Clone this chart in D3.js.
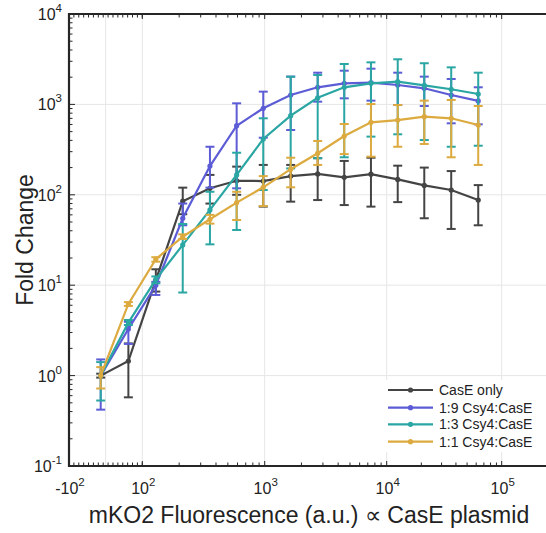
<!DOCTYPE html>
<html><head><meta charset="utf-8">
<script src="https://cdn.jsdelivr.net/npm/d3@7"></script>
<style>body{margin:0;background:#fff}svg{display:block;font-family:"Liberation Sans",Arial,Helvetica,sans-serif}</style>
</head><body>
<script>
// ---- data ----
const xVals = [-13.5, 62, 129, 214, 357, 590, 973, 1633, 2718, 4487, 7430, 12470, 21220, 36390, 62500];
const seriesNames = ["CasE only", "1:9 Csy4:CasE", "1:3 Csy4:CasE", "1:1 Csy4:CasE"];
const seriesColors = ["#444444", "#5c5cd6", "#2aa6a3", "#dcaa3e"];
const caseOnly    = [1.0, 1.45, 11.4, 85, 118, 143, 142, 161, 170, 156, 169, 148, 127, 113, 87.5];
const caseOnlyHi  = [1.05, 2.27, 15, 120, 166, 205, 214, 214, 254, 237, 257, 210, 200, 183, 128];
const caseOnlyLo  = [0.95, 0.575, 8.5, 61, 80, 100, 74, 84, 87.5, 77, 74, 83, 55, 41.9, 46];
const ratio19     = [1.0, 3.28, 10.0, 55, 208, 581, 906, 1270, 1546, 1711, 1738, 1640, 1507, 1270, 1092];
const ratio19Hi   = [1.51, 3.94, 10.9, 80, 340, 1028, 1384, 2028, 2243, 2360, 2483, 2243, 2028, 1910, 1546];
const ratio19Lo   = [0.42, 2.24, 7.8, 46, 120, 118, 428, 521, 1072, 1167, 1100, 984, 960, 618, 602];
const ratio13     = [1.0, 3.85, 11.6, 27.9, 68, 166, 414, 750, 1185, 1546, 1711, 1783, 1627, 1470, 1303];
const ratio13Hi   = [1.41, 4.12, 12.5, 47.5, 108, 292, 702, 2028, 2113, 2800, 2918, 3155, 2853, 2570, 2243];
const ratio13Lo   = [0.53, 3.63, 10.5, 8.3, 28.3, 40.8, 113, 196, 254, 260, 440, 467, 404, 340, 349];
const ratio11     = [1.0, 6.2, 19.4, 34.4, 53.6, 82, 121, 192, 288, 447, 634, 671, 731, 702, 592];
const ratio11Hi   = [1.24, 6.5, 20.4, 36.5, 60, 108, 161, 257, 394, 607, 1009, 984, 1100, 1120, 960];
const ratio11Lo   = [0.72, 5.9, 18.2, 32.5, 48, 52.6, 75, 121, 214, 282, 264, 340, 365, 260, 214];
const yTickExps = [-1, 0, 1, 2, 3, 4];
const xTickLabels = [{v:-100, sign:"-", e:2}, {v:100, sign:"", e:2}, {v:1000, sign:"", e:3}, {v:10000, sign:"", e:4}, {v:100000, sign:"", e:5}];
const xLabel = "mKO2 Fluorescence (a.u.) \u221D CasE plasmid";
const yLabel = "Fold Change";

const W = 546, H = 533;
const L = 69, T = 14, B = 466, R = 548;
const svg = d3.select("body").append("svg").attr("width", W).attr("height", H);

// piecewise scale: linear in [-100,100], logarithmic beyond
const xLin = d3.scaleLinear().domain([-100, 100]).range([L, 142.3]);
const xLogPart = d3.scaleLinear().domain([2, 3, 4, 5, 5.5]).range([142.3, 264.7, 386.7, 501.7, 559.2]);
const x = v => v <= 100 ? xLin(v) : xLogPart(Math.log10(v));
const y = d3.scaleLog().domain([0.1, 1e4]).range([B, T]);

// grid
const grid = svg.append("g").attr("stroke", "#e6e6e6").attr("stroke-width", 1);
yTickExps.forEach(e => {
  const yy = y(Math.pow(10, e));
  if (e > -1 && e < 4) grid.append("line").attr("x1", L).attr("x2", R).attr("y1", yy).attr("y2", yy);
});
[0, 100, 1000, 10000, 100000].forEach(v => {
  grid.append("line").attr("x1", x(v)).attr("x2", x(v)).attr("y1", T).attr("y2", B);
});

// series
const series = [
  {m: caseOnly, hi: caseOnlyHi, lo: caseOnlyLo},
  {m: ratio19, hi: ratio19Hi, lo: ratio19Lo},
  {m: ratio13, hi: ratio13Hi, lo: ratio13Lo},
  {m: ratio11, hi: ratio11Hi, lo: ratio11Lo}
];
const line = d3.line().x((d, i) => x(xVals[i])).y(d => y(d));
series.forEach((s, k) => {
  const g = svg.append("g").attr("stroke", seriesColors[k]).attr("fill", seriesColors[k]);
  xVals.forEach((xv, i) => {
    const cx = x(xv);
    g.append("line").attr("x1", cx).attr("x2", cx).attr("y1", y(s.hi[i])).attr("y2", y(s.lo[i])).attr("stroke-width", 2);
    g.append("line").attr("x1", cx - 4.5).attr("x2", cx + 4.5).attr("y1", y(s.hi[i])).attr("y2", y(s.hi[i])).attr("stroke-width", 2);
    g.append("line").attr("x1", cx - 4.5).attr("x2", cx + 4.5).attr("y1", y(s.lo[i])).attr("y2", y(s.lo[i])).attr("stroke-width", 2);
  });
  g.append("path").attr("d", line(s.m)).attr("fill", "none").attr("stroke-width", 2.2);
  g.selectAll("circle").data(s.m).enter().append("circle")
    .attr("cx", (d, i) => x(xVals[i])).attr("cy", d => y(d)).attr("r", 2.6).attr("stroke", "none");
});

// axes frame & ticks
const ax = svg.append("g").attr("stroke", "#262626");
for (let e = -1; e < 4; e++) {
  for (let m = 1; m <= 9; m++) {
    const yy = y(m * Math.pow(10, e));
    const len = m === 1 ? 6 : 3.5;
    ax.append("line").attr("x1", L).attr("x2", L + len).attr("y1", yy).attr("y2", yy).attr("stroke-width", 1);
  }
}
const xMinor = [];
d3.range(-100, 100.01, 200 / 15).forEach(v => xMinor.push({v, len: 3.5}));
for (let e = 2; e < 5; e++) for (let m = 2; m <= 9; m++) xMinor.push({v: m * Math.pow(10, e), len: 3.5});
[100, 1000, 10000, 100000].forEach(v => xMinor.push({v, len: 5}));
xMinor.forEach(t => {
  const xx = x(t.v);
  ax.append("line").attr("x1", xx).attr("x2", xx).attr("y1", B).attr("y2", B - t.len).attr("stroke-width", 1);
  ax.append("line").attr("x1", xx).attr("x2", xx).attr("y1", T).attr("y2", T + t.len).attr("stroke-width", 1);
});
ax.append("path").attr("d", `M${R},${T}H${L}V${B}H${R}`).attr("fill", "none").attr("stroke-width", 2.2);

// tick labels
const tl = svg.append("g").attr("fill", "#222").attr("font-size", 16);
yTickExps.forEach(e => {
  const t = tl.append("text").attr("x", 62).attr("y", y(Math.pow(10, e)) + 6).attr("text-anchor", "end");
  t.append("tspan").text("10");
  t.append("tspan").attr("font-size", 11.5).attr("dy", -8).text(e);
});
xTickLabels.forEach(d => {
  const t = tl.append("text").attr("x", x(d.v) + 1).attr("y", 494).attr("text-anchor", "middle");
  t.append("tspan").text(d.sign + "10");
  t.append("tspan").attr("font-size", 11.5).attr("dy", -8).text(d.e);
});

// axis titles
svg.append("text").attr("x", 309).attr("y", 523).attr("text-anchor", "middle")
  .attr("font-size", 23).attr("fill", "#222").text(xLabel);
svg.append("text").attr("transform", "translate(33,240) rotate(-90)").attr("text-anchor", "middle")
  .attr("font-size", 23).attr("fill", "#222").text(yLabel);

// legend
const lg = svg.append("g");
lg.append("rect").attr("x", 383).attr("y", 380).attr("width", 170).attr("height", 72).attr("fill", "#fff");
const legY = [390, 407.7, 424.3, 441.7];
seriesNames.forEach((n, k) => {
  lg.append("line").attr("x1", 388).attr("x2", 433).attr("y1", legY[k]).attr("y2", legY[k])
    .attr("stroke", seriesColors[k]).attr("stroke-width", 2.2);
  lg.append("circle").attr("cx", 410.5).attr("cy", legY[k]).attr("r", 2.6).attr("fill", seriesColors[k]);
  lg.append("text").attr("x", 439).attr("y", legY[k] + 5).attr("font-size", 14).attr("fill", "#222").text(n);
});
</script>
</body></html>
